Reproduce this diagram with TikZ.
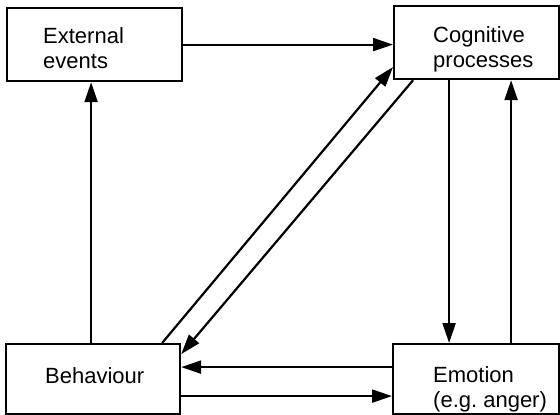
\documentclass[tikz,border=0pt]{standalone}
\usepackage{fontspec}
\setmainfont{Liberation Sans}
\usetikzlibrary{arrows.meta}
\begin{document}
\begin{tikzpicture}[x=1pt,y=-1pt,
  box/.style={draw, line width=2.2pt, inner sep=0pt, anchor=north west},
  lbl/.style={anchor=base west, inner sep=0pt, align=left, font=\fontsize{22}{25}\selectfont},
  arr/.style={line width=2.2pt, -{Triangle[length=20pt,width=13pt]}}]
\useasboundingbox (0,0) rectangle (560,415);
\node[box, minimum width=175pt, minimum height=73pt] (ext) at (6,7) {};
\node[box, minimum width=165pt, minimum height=73pt] (cog) at (393,5) {};
\node[box, minimum width=174pt, minimum height=70pt] (beh) at (5,343) {};
\node[box, minimum width=166pt, minimum height=70pt] (emo) at (392,343) {};
\node[lbl] (tExt) at (43,68) {External\\events};
\node[lbl] (tCog) at (433,67) {Cognitive\\processes};
\node[lbl] (tBeh) at (45,383) {Behaviour};
\node[lbl] (tEmo) at (433,407) {Emotion\\(e.g.\ anger)};
% coordinates on box borders
\coordinate (e1) at ([xshift=-3.5pt]ext.south);
\coordinate (c1) at ([xshift=-27.5pt]cog.south);
\coordinate (c2) at ([xshift=34.5pt]cog.south);
\coordinate (c3) at ([xshift=-63.5pt]cog.south);
\coordinate (c4) at ([yshift=-24.5pt]cog.west);
\coordinate (b1) at ([yshift=12pt]beh.east);
\coordinate (b2) at ([yshift=-17pt]beh.east);
\coordinate (b3) at ([xshift=69pt]beh.north);
\coordinate (b4) at ([yshift=25pt]beh.east);
% connectors
\draw[arr] (ext.east) -- (ext.east -| cog.west);
\draw[arr] (e1 |- beh.north) -- (e1);
\draw[arr] (c1) -- (c1 |- emo.north);
\draw[arr] (c2 |- emo.north) -- (c2);
\draw[arr] (b1 -| emo.west) -- (b1);
\draw[arr] (b2) -- (b2 -| emo.west);
\draw[arr] (b3) -- (c4);
\draw[arr] (c3) -- (b4);
\end{tikzpicture}
\end{document}
